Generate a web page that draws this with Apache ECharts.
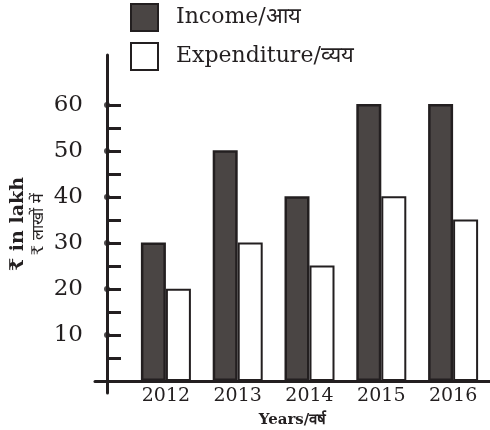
<!DOCTYPE html>
<html>
<head>
<meta charset="utf-8">
<script src="https://cdn.jsdelivr.net/npm/echarts@6/dist/echarts.min.js"></script>
<style>
  html, body { margin: 0; padding: 0; background: #fff; }
  #main { width: 490px; height: 430px; }
</style>
</head>
<body>
<div id="main"></div>
<script>
// data (₹ lakh)
const years = ['2012', '2013', '2014', '2015', '2016']
const income = [30, 50, 40, 60, 60]
const expenditure = [20, 30, 25, 40, 35]
const yLabels = [10, 20, 30, 40, 50, 60]
const yHalfTicks = [5, 15, 25, 35, 45, 55]

const ink = '#231f20'
const font = 'DejaVu Serif'

const chart = echarts.init(document.getElementById('main'))
const option = {
  animation: false,
  legend: {
    orient: 'vertical',
    left: 125,
    top: -2,
    itemWidth: 27,
    itemHeight: 27,
    itemGap: 10,
    icon: 'rect',
    textStyle: { fontFamily: font, fontSize: 22, color: ink, padding: [0, 0, 0, 13] },
    data: ['Income/आय', 'Expenditure/व्यय'],
  },
  grid: [
    { left: 130, right: 1, top: 104, bottom: 49, outerBoundsMode: 'none' },
    { left: 95, right: 0, top: 55, bottom: 37, outerBoundsMode: 'none' },
  ],
  xAxis: [
    {
      gridIndex: 0,
      type: 'category',
      data: years,
      axisLine: { show: false },
      axisTick: { show: false },
      axisLabel: { fontFamily: font, fontSize: 19, color: ink, margin: 6 },
    },
    {
      gridIndex: 1,
      type: 'value',
      min: -12,
      max: 383,
      axisLine: { lineStyle: { color: ink, width: 3 } },
      axisTick: { show: false },
      axisLabel: { show: false },
      splitLine: { show: false },
      name: 'Years/वर्ष',
      nameLocation: 'middle',
      nameGap: 20,
      nameMoveOverlap: false,
      nameTextStyle: { fontFamily: font, fontSize: 15, fontWeight: 'bold', color: ink },
    },
  ],
  yAxis: [
    { gridIndex: 0, type: 'value', min: 0, max: 60, show: false },
    {
      gridIndex: 1,
      type: 'value',
      min: -2.6,
      max: 70.87,
      axisLine: { show: true, lineStyle: { color: ink, width: 3 } },
      axisTick: {
        show: true,
        inside: true,
        length: 14,
        customValues: yLabels.concat(yHalfTicks),
        lineStyle: { color: ink, width: 3 },
      },
      axisLabel: { customValues: yLabels, fontFamily: font, fontSize: 23, color: ink, margin: 12 },
      splitLine: { show: false },
      name: '{a|₹ in lakh}\n{b|₹ लाखों में}',
      nameLocation: 'middle',
      nameRotate: 90,
      nameGap: 46,
      nameMoveOverlap: false,
      nameTextStyle: {
        rich: {
          a: { fontFamily: font, fontSize: 19, fontWeight: 'bold', color: ink, lineHeight: 22 },
          b: { fontFamily: font, fontSize: 16, color: ink, lineHeight: 20 },
        },
      },
    },
    {
      gridIndex: 1,
      type: 'value',
      min: -2.6,
      max: 70.87,
      axisLine: { show: false },
      axisTick: { show: true, length: 11, customValues: yHalfTicks, lineStyle: { color: ink, width: 3 } },
      axisLabel: { show: false },
      splitLine: { show: false },
    },
  ],
  series: [
    {
      name: 'Income/आय',
      type: 'bar',
      xAxisIndex: 0,
      yAxisIndex: 0,
      data: income,
      barWidth: 25,
      barGap: '0%',
      itemStyle: { color: '#4a4544', borderColor: ink, borderWidth: 2.5 },
    },
    {
      name: 'Expenditure/व्यय',
      type: 'bar',
      xAxisIndex: 0,
      yAxisIndex: 0,
      data: expenditure,
      barWidth: 25,
      barGap: '0%',
      itemStyle: { color: '#ffffff', borderColor: ink, borderWidth: 2 },
    },
    {
      type: 'scatter',
      xAxisIndex: 1,
      yAxisIndex: 1,
      data: yLabels.map(v => [0, v]),
      symbolSize: 6,
      itemStyle: { color: ink },
      z: 5,
      silent: true,
    },
  ],
}
option && chart.setOption(option)
</script>
</body>
</html>
